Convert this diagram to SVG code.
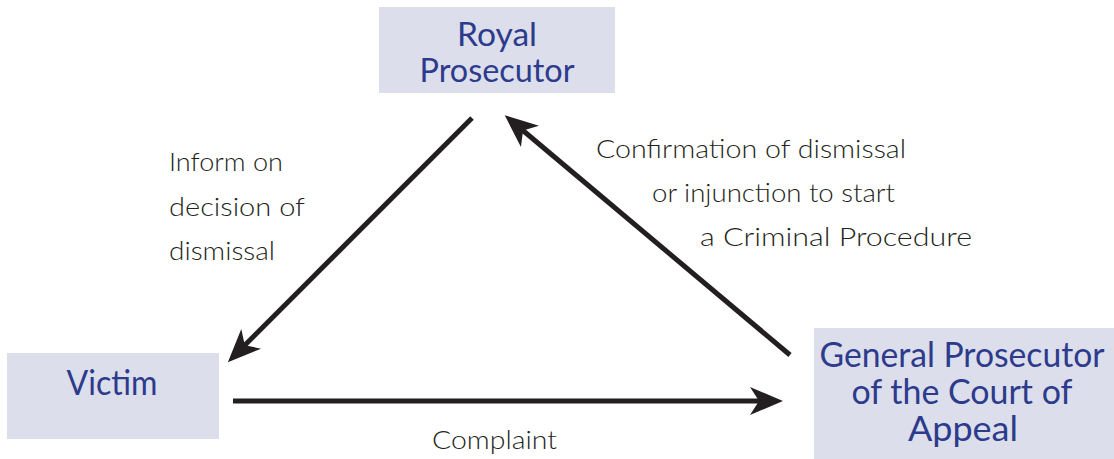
<svg xmlns="http://www.w3.org/2000/svg" width="1114" height="459" viewBox="0 0 1114 459">
<style>
.box{fill:#dcdeec;}
.nt{font-family:Lato,"Liberation Sans",Arial,sans-serif;font-size:34px;fill:#2c3b8b;text-anchor:middle;}
.sm{font-size:32px;}
.lb{font-family:Lato,"Liberation Sans",Arial,sans-serif;font-weight:300;font-size:25px;fill:#231f20;}
.cn{stroke:#231f20;stroke-width:5;fill:none;}
</style>
<defs>
<marker id="ah" markerUnits="userSpaceOnUse" viewBox="-36 -16 38 32" refX="-20" refY="0" markerWidth="38" markerHeight="32" orient="auto">
<path d="M0,0 L-33,-14 L-24,0 L-33,14 Z" fill="#231f20"/>
</marker>
</defs>
<rect width="1114" height="459" fill="#ffffff"/>
<g id="royal">
<rect class="box" x="379" y="7" width="236" height="86"/>
<text class="nt sm" x="497" y="46" textLength="80" lengthAdjust="spacingAndGlyphs">Royal</text>
<text class="nt sm" x="497" y="82" textLength="155" lengthAdjust="spacingAndGlyphs">Prosecutor</text>
</g>
<g id="victim">
<rect class="box" x="7" y="353" width="212" height="86"/>
<text class="nt" x="112" y="395" textLength="91" lengthAdjust="spacingAndGlyphs">Victim</text>
</g>
<g id="general">
<rect class="box" x="814" y="328" width="300" height="131"/>
<text class="nt" x="962" y="367" textLength="285" lengthAdjust="spacingAndGlyphs">General Prosecutor</text>
<text class="nt" x="962" y="404" textLength="221" lengthAdjust="spacingAndGlyphs">of the Court of</text>
<text class="nt" x="963" y="441" textLength="110" lengthAdjust="spacingAndGlyphs">Appeal</text>
</g>
<g id="connectors">
<line class="cn" x1="472" y1="118" x2="242" y2="348" marker-end="url(#ah)"/>
<line class="cn" x1="790" y1="355" x2="520" y2="128" marker-end="url(#ah)"/>
<line class="cn" x1="233" y1="401" x2="763" y2="401" marker-end="url(#ah)"/>
</g>
<g id="labels">
<text class="lb" x="169" y="171" textLength="114" lengthAdjust="spacingAndGlyphs">Inform on</text>
<text class="lb" x="169" y="216" textLength="136" lengthAdjust="spacingAndGlyphs">decision of</text>
<text class="lb" x="169" y="260" textLength="106" lengthAdjust="spacingAndGlyphs">dismissal</text>
<text class="lb" x="596" y="158" textLength="310" lengthAdjust="spacingAndGlyphs">Confirmation of dismissal</text>
<text class="lb" x="652" y="202" textLength="243" lengthAdjust="spacingAndGlyphs">or injunction to start</text>
<text class="lb" x="700" y="246" textLength="272" lengthAdjust="spacingAndGlyphs">a Criminal Procedure</text>
<text class="lb" x="432" y="449" textLength="125" lengthAdjust="spacingAndGlyphs">Complaint</text>
</g>
</svg>
